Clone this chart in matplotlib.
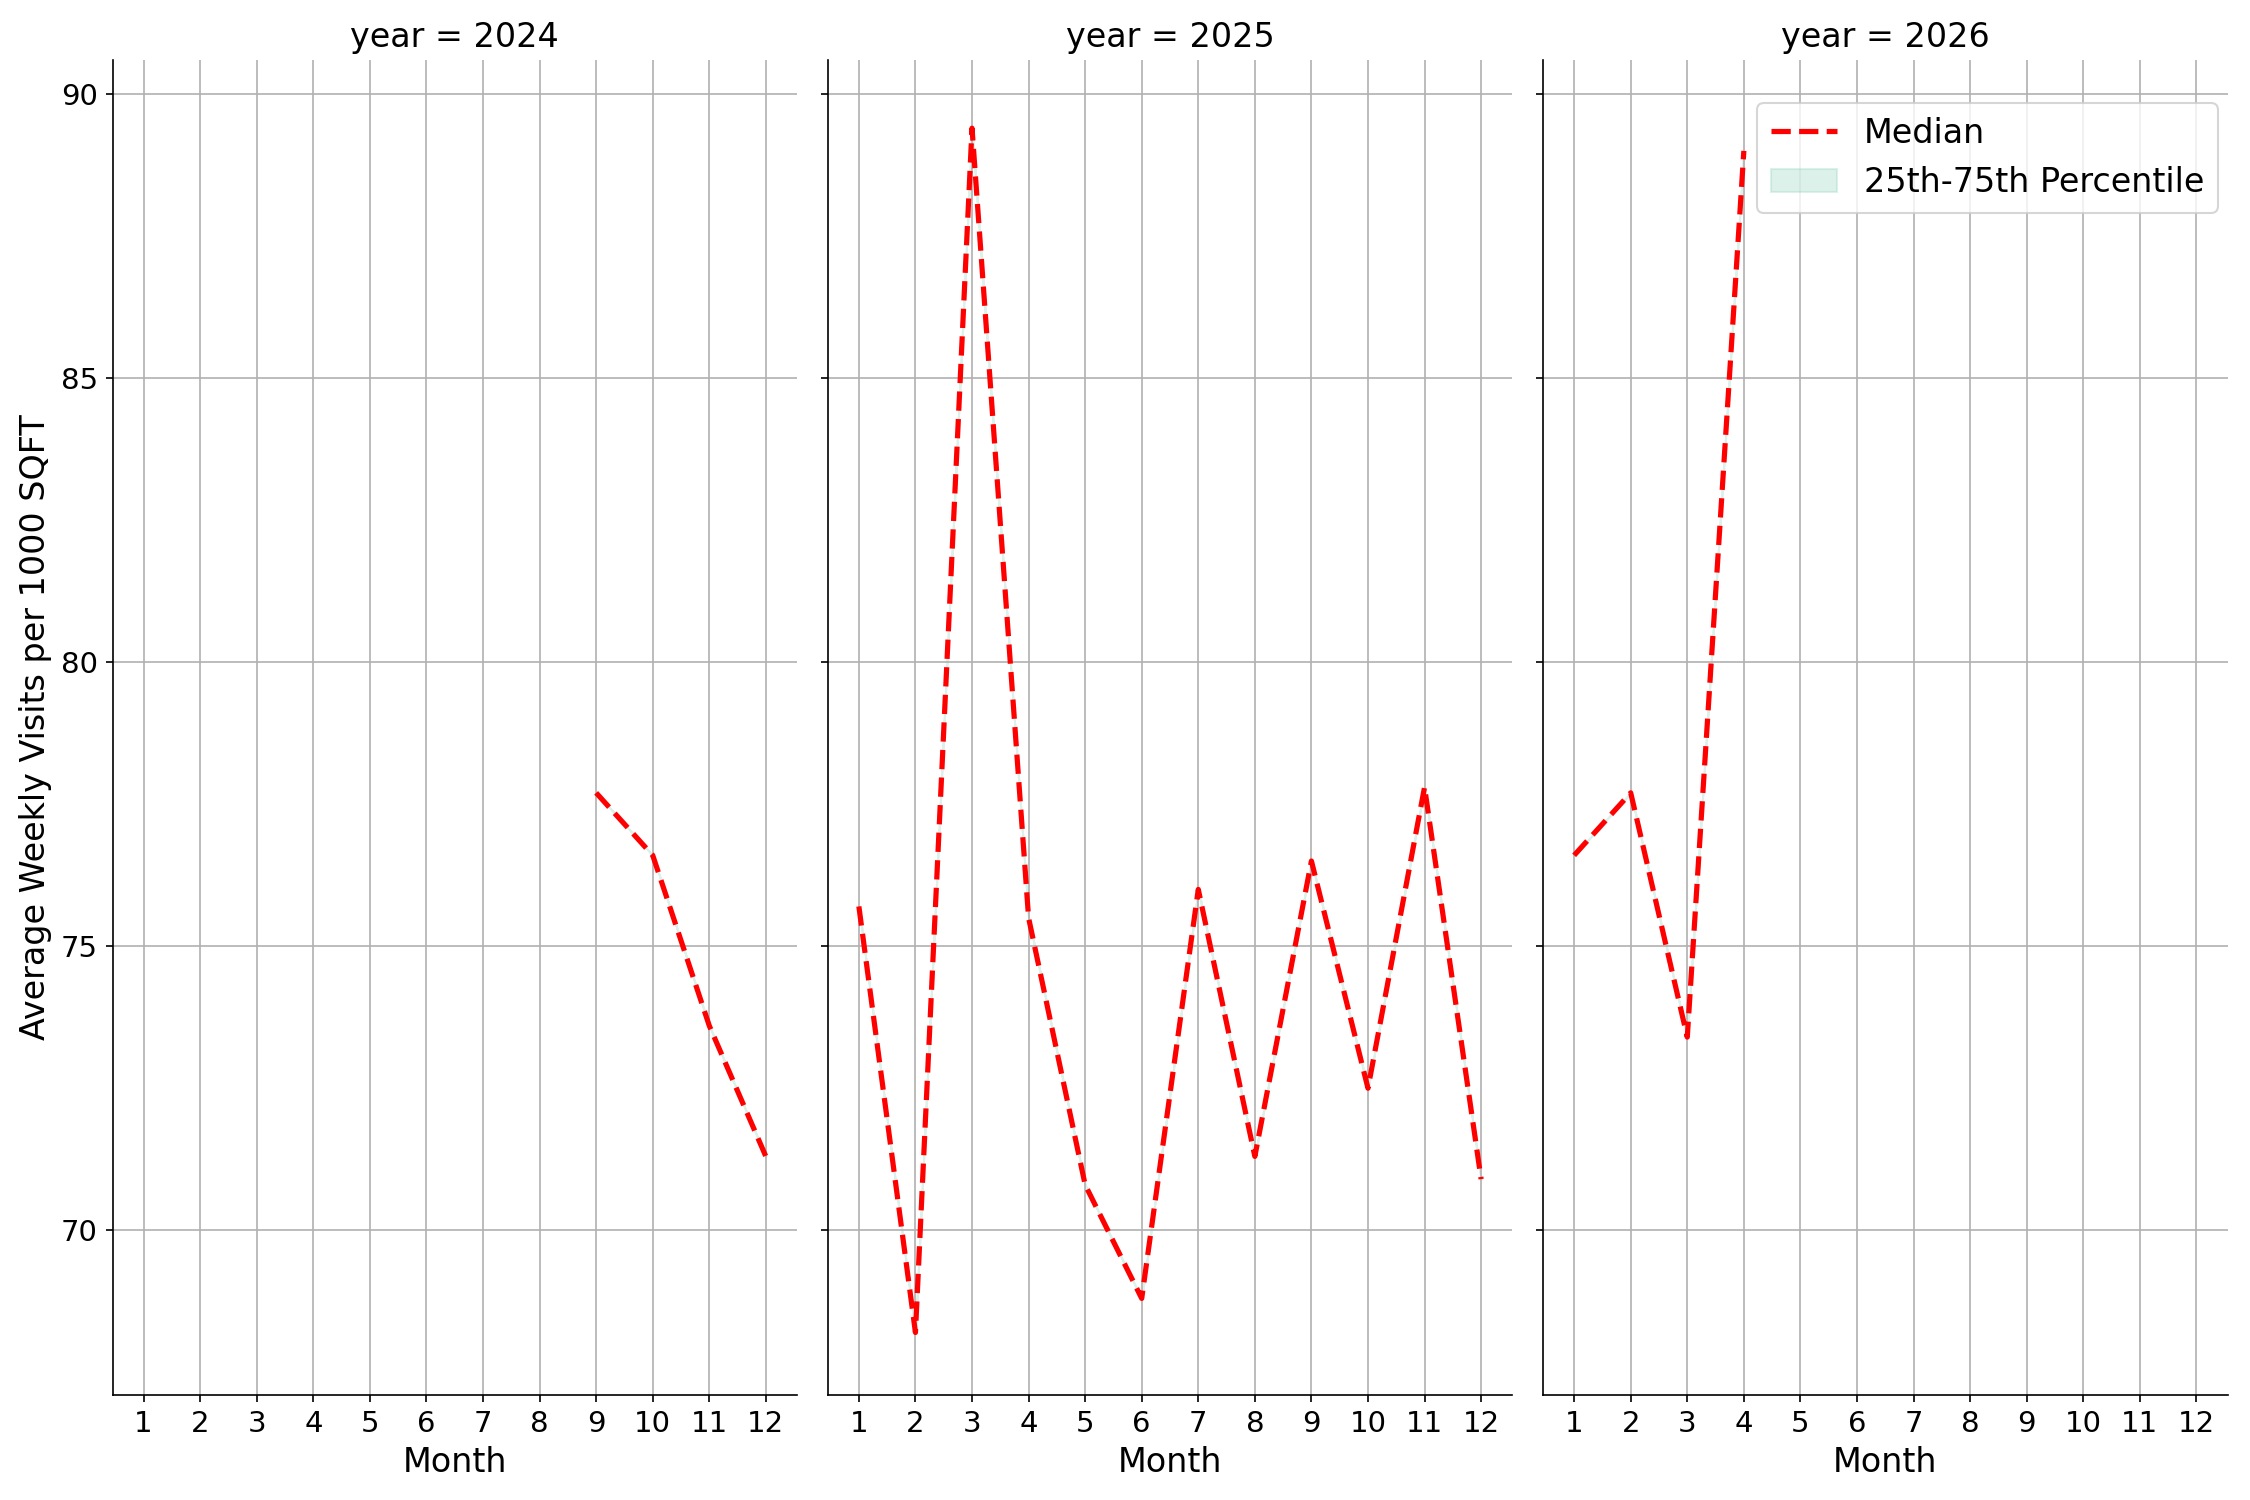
import matplotlib
matplotlib.use("Agg")
import matplotlib.pyplot as plt
import numpy as np

years = [2024, 2025, 2026]
months_2024 = [9, 10, 11, 12]
median_2024 = [77.7, 76.6, 73.6, 71.3]
months_2025 = list(range(1, 13))
median_2025 = [75.7, 68.2, 89.4, 75.5, 70.8, 68.8, 76.0, 71.3, 76.5, 72.5, 77.8, 70.9]
months_2026 = [1, 2, 3, 4]
median_2026 = [76.6, 77.7, 73.4, 89.0]
data = {2024: (months_2024, median_2024), 2025: (months_2025, median_2025), 2026: (months_2026, median_2026)}

fig, axes = plt.subplots(1, 3, figsize=(15, 10), dpi=150, sharey=True)
for ax, yr in zip(axes, years):
    m, v = data[yr]
    ax.plot(m, v, color="red", linestyle="--", linewidth=2.5, label="Median")
    ax.fill_between(m, v, v, color="#8fd1bf", alpha=0.3, label="25th-75th Percentile")
    ax.set_title(f"year = {yr}", fontsize=16)
    ax.set_xlim(0.45, 12.55)
    ax.set_xticks(range(1, 13))
    ax.set_ylim(67.1, 90.6)
    ax.set_yticks([70, 75, 80, 85, 90])
    ax.grid(True, color="#b0b0b0", linewidth=0.8)
    ax.spines["top"].set_visible(False)
    ax.spines["right"].set_visible(False)
    ax.tick_params(labelsize=14)
    ax.set_xlabel("Month", fontsize=16)
axes[0].set_ylabel("Average Weekly Visits per 1000 SQFT", fontsize=16)
axes[2].legend(loc="upper right", fontsize=16, bbox_to_anchor=(1.01, 0.98))
fig.subplots_adjust(left=0.05, right=0.99, bottom=0.07, top=0.96, wspace=0.045)
fig.savefig("out.png")
